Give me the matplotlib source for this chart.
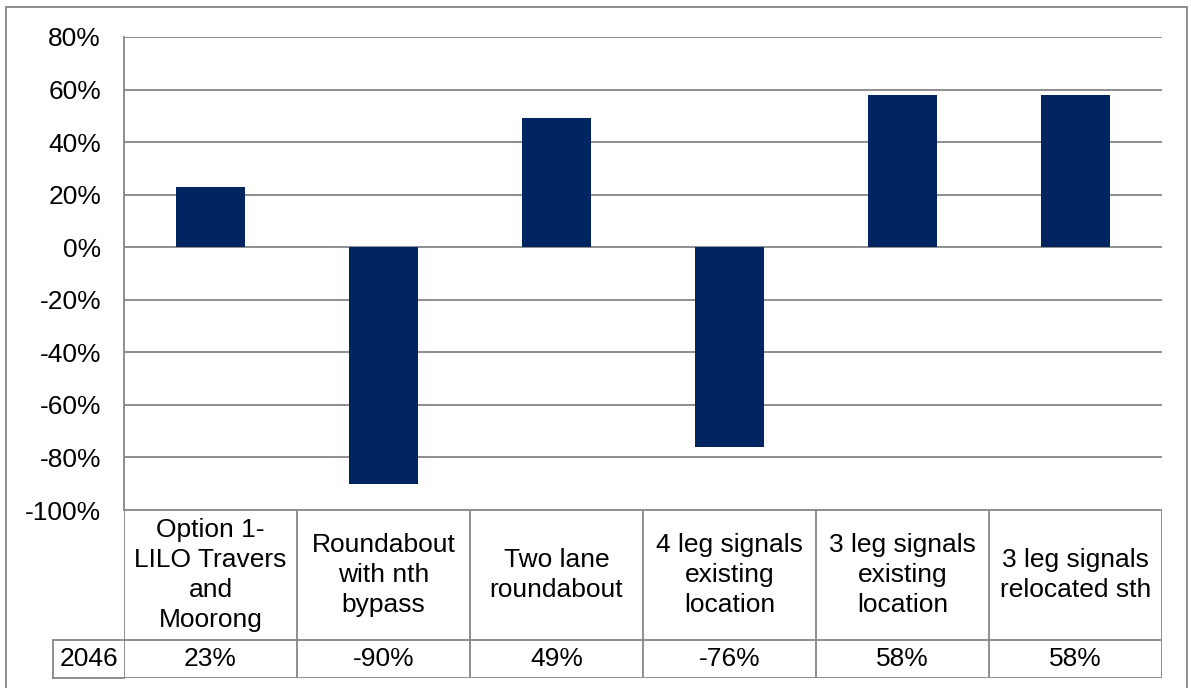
import matplotlib.pyplot as plt
from matplotlib.patches import Rectangle
from matplotlib.lines import Line2D

plt.rcParams['font.family'] = ['Liberation Sans', 'DejaVu Sans']

# Data
categories = ['Option 1-\nLILO Travers\nand\nMoorong', 'Roundabout\nwith nth\nbypass',
              'Two lane\nroundabout', '4 leg signals\nexisting\nlocation',
              '3 leg signals\nexisting\nlocation', '3 leg signals\nrelocated sth']
values = [23, -90, 49, -76, 58, 58]
series_name = '2046'
yticks = [-100, -80, -60, -40, -20, 0, 20, 40, 60, 80]

W, H = 1191, 688
grid_c = '#868686'
bar_c = '#002561'
fs = 19

fig = plt.figure(figsize=(W / 100, H / 100), dpi=100)

# outer chart border
fig.add_artist(Rectangle((6 / W, -0.01), 1181 / W, (H - 7) / H + 0.01, transform=fig.transFigure,
                         fill=False, edgecolor=grid_c, linewidth=1.3))

# main plot area
ax = fig.add_axes([124 / W, (H - 510) / H, 1038 / W, 473 / H])
x = list(range(len(values)))
ax.bar(x, [v / 100 for v in values], width=0.4, color=bar_c, zorder=3)
ax.set_xlim(-0.5, len(values) - 0.5)
ax.set_ylim(-1.0, 0.8)
ax.set_yticks([t / 100 for t in yticks])
ax.set_yticklabels([f'{t}%' for t in yticks], fontsize=fs)
ax.tick_params(axis='y', length=0, pad=16.5)
ax.set_xticks([])
ax.grid(axis='y', color=grid_c, linewidth=1.3, zorder=0)
for s in ['top', 'right', 'bottom']:
    ax.spines[s].set_visible(False)
ax.spines['left'].set_color(grid_c)
ax.spines['left'].set_linewidth(1.3)

# data table below
tab = fig.add_axes([124 / W, (H - 678) / H, 1038 / W, 168 / H], sharex=ax)
tab.set_ylim(0, 1)
tab.axis('off')
row_y = 38 / 168
lw = 1.3
tab.add_line(Line2D([-0.5, len(values) - 0.5], [1, 1], color=grid_c, lw=lw))
tab.add_line(Line2D([-0.5, len(values) - 0.5], [row_y, row_y], color=grid_c, lw=lw))
tab.add_line(Line2D([-0.5, len(values) - 0.5], [0, 0], color=grid_c, lw=lw))
for i in range(len(values) + 1):
    tab.add_line(Line2D([i - 0.5, i - 0.5], [0, 1], color=grid_c, lw=lw))
for i, (c, v) in enumerate(zip(categories, values)):
    tab.text(i, (1 + row_y) / 2, c, ha='center', va='center', fontsize=fs, linespacing=1.3)
    tab.text(i, row_y / 2, f'{v}%', ha='center', va='center', fontsize=fs)

# legend key cell
key_w = (124 - 53) / 1038 * len(values)
tab.add_line(Line2D([-0.5 - key_w, -0.5], [row_y, row_y], color=grid_c, lw=lw, clip_on=False))
tab.add_line(Line2D([-0.5 - key_w, -0.5], [0, 0], color=grid_c, lw=lw, clip_on=False))
tab.add_line(Line2D([-0.5 - key_w, -0.5 - key_w], [0, row_y], color=grid_c, lw=lw, clip_on=False))
tab.text(-0.5 - key_w / 2, row_y / 2, series_name, ha='center', va='center', fontsize=fs, clip_on=False)

fig.savefig('out.png', dpi=100)
